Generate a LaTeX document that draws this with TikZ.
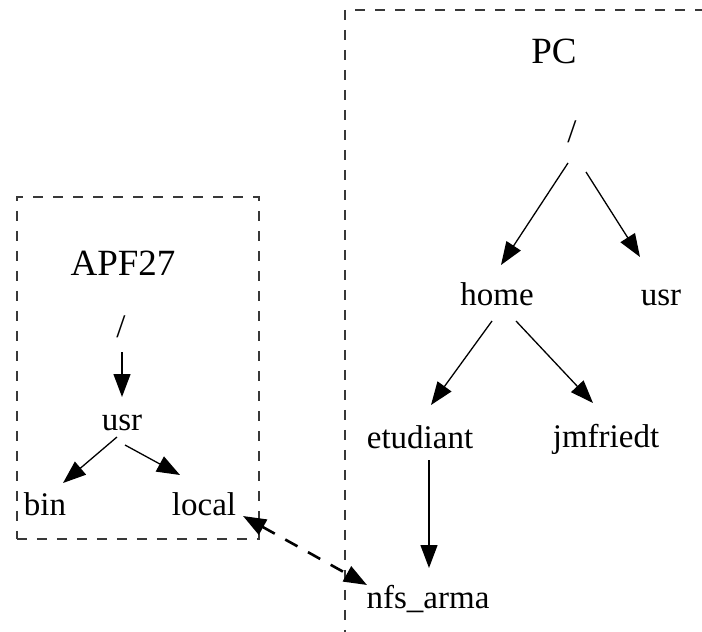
\documentclass[tikz,border=0pt]{standalone}
\usepackage{fontspec}
\setmainfont{Liberation Serif}
\usetikzlibrary{arrows.meta}

\tikzset{
  lbl/.style={anchor=base, inner sep=0pt, font=\fontsize{33}{36}\selectfont},
  title/.style={anchor=base, inner sep=0pt, font=\fontsize{37}{40}\selectfont},
  cluster/.style={draw=black!78, line width=1.5pt, dash pattern=on 10pt off 10pt,
                  inner sep=0pt, anchor=north west},
  edge/.style={line width=1.3pt, -{Triangle[length=23pt,width=17pt]}},
  mount/.style={line width=2.6pt, dash pattern=on 14pt off 12pt,
                {Triangle[length=23pt,width=17pt]}-{Triangle[length=23pt,width=17pt]}}
}

\begin{document}
\begin{tikzpicture}[x=1pt, y=-1pt]
  \useasboundingbox (0,0) rectangle (702,632);
  \clip (0,0) rectangle (702,632);

  % board and host clusters
  \node[cluster, minimum width=242, minimum height=342] (apfbox) at (16,196) {};
  \node[cluster, minimum width=420, minimum height=700] (pcbox) at (344,9) {};

  % APF27 file tree
  \node[title] (apf)   at (123,275) {APF27};
  \node[lbl]   (aroot) at (121,337) {/};
  \node[lbl]   (ausr)  at (122,430) {usr};
  \node[lbl]   (bin)   at (45,515)  {bin};
  \node[lbl]   (local) at (204,515) {local};

  % PC file tree
  \node[title] (pc)    at (554,63)  {PC};
  \node[lbl]   (proot) at (572,142) {/};
  \node[lbl]   (home)  at (497,305) {home};
  \node[lbl]   (pusr)  at (661,305) {usr};
  \node[lbl]   (etud)  at (420,448) {etudiant};
  \node[lbl]   (jmf)   at (606,447) {jmfriedt};
  \node[lbl]   (nfs)   at (428,608) {nfs\_arma};

  % APF27 edges
  \draw[edge] ([shift={(1,15)}]aroot.base) -- ([shift={(0,-33)}]ausr.base);
  \draw[edge] ([shift={(-5,7)}]ausr.base) -- ([shift={(18,-32)}]bin.base);
  \draw[edge] ([shift={(3,15)}]ausr.base) -- ([shift={(-24,-40)}]local.base);

  % PC edges
  \draw[edge] ([shift={(-4,21)}]proot.base) -- ([shift={(4,-40)}]home.base);
  \draw[edge] ([shift={(14,30)}]proot.base) -- ([shift={(-21,-48)}]pusr.base);
  \draw[edge] ([shift={(-5,16)}]home.base) -- ([shift={(11,-43)}]etud.base);
  \draw[edge] ([shift={(19,16)}]home.base) -- ([shift={(-13,-44)}]jmf.base);
  \draw[edge] ([shift={(9,12)}]etud.base) -- ([shift={(1,-40)}]nfs.base);

  % NFS mount link
  \draw[mount] ([shift={(39,1)}]local.base) -- ([shift={(-61,-23)}]nfs.base);
\end{tikzpicture}
\end{document}
